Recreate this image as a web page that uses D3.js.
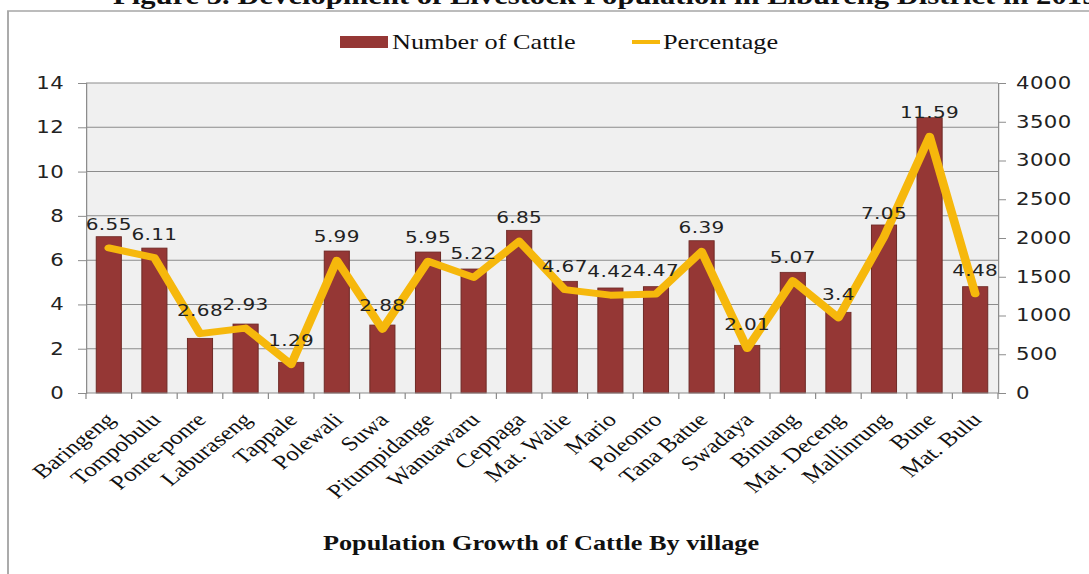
<!DOCTYPE html>
<html>
<head>
<meta charset="utf-8">
<script src="https://cdn.jsdelivr.net/npm/d3@7"></script>
<style>
  body { margin: 0; background: #fff; }
  svg { display: block; }
</style>
</head>
<body>
<div id="chart"></div>
<script>
// data
const villages = ["Baringeng", "Tompobulu", "Ponre-ponre", "Laburaseng", "Tappale", "Polewali", "Suwa",
    "Pitumpidange", "Wanuawaru", "Ceppaga", "Mat. Walie", "Mario", "Poleonro", "Tana Batue", "Swadaya",
    "Binuang", "Mat. Deceng", "Mallinrung", "Bune", "Mat. Bulu"];
const cattle = [2017, 1870, 705, 890, 396, 1832, 877, 1819, 1600, 2099, 1441, 1355, 1372, 1965, 615,
    1557, 1041, 2168, 3552, 1372];
const percentage = [6.55, 6.11, 2.68, 2.93, 1.29, 5.99, 2.88, 5.95, 5.22, 6.85, 4.67, 4.42, 4.47, 6.39, 2.01,
    5.07, 3.4, 7.05, 11.59, 4.48];
const leftTicks = [0, 2, 4, 6, 8, 10, 12, 14];
const rightTicks = [0, 500, 1000, 1500, 2000, 2500, 3000, 3500, 4000];

const width = 1089, height = 574;
const SX = 1.25; // the original picture is stretched sideways
const X = (v) => v / SX;

const barColor = "#953735";
const lineColor = "#f6b80c";

var svg = d3.select("#chart")
    .append("svg")
    .attr("width", width)
    .attr("height", height);

var g = svg.append("g").attr("transform", `scale(${SX},1)`);

// frame
g.append("rect")
    .attr("x", X(8)).attr("y", 11)
    .attr("width", X(1200)).attr("height", 600)
    .attr("fill", "none")
    .attr("stroke", "#a6a6a6")
    .attr("stroke-width", 1.5);

// title, cut off at the top
g.append("text")
    .attr("x", X(113)).attr("y", 4)
    .style("font-family", "Liberation Serif")
    .style("font-size", "24.5px")
    .style("font-weight", "bold")
    .attr("fill", "#111")
    .text("Figure 5. Development of Livestock Population in Libureng District in 2019");

var x = d3.scaleBand()
    .domain(villages)
    .range([X(86), X(998)])
    .paddingInner(0.45)
    .paddingOuter(0.225);

var yL = d3.scaleLinear().domain([0, 14]).range([393, 83]);
var yR = d3.scaleLinear().domain([0, 4000]).range([393, 83]);

// plot background
g.append("rect")
    .attr("x", X(86)).attr("y", yL(14))
    .attr("width", X(998) - X(86)).attr("height", yL(0) - yL(14))
    .attr("fill", "#f0f0f0");

// gridlines
g.append("g")
    .selectAll("line")
    .data(leftTicks.filter(d => d > 0))
    .enter()
    .append("line")
    .attr("x1", X(86)).attr("x2", X(998))
    .attr("y1", d => yL(d)).attr("y2", d => yL(d))
    .attr("stroke", "#8c8c8c")
    .attr("stroke-width", 1);

// bars
g.append("g")
    .selectAll("rect")
    .data(cattle)
    .enter()
    .append("rect")
    .attr("x", (d, i) => x(villages[i]))
    .attr("y", d => yR(d))
    .attr("width", x.bandwidth())
    .attr("height", d => yR(0) - yR(d))
    .attr("fill", barColor)
    .attr("stroke", "#6e2a26")
    .attr("stroke-width", 0.8);

// axes
var tickFont = (sel) => sel.selectAll("text")
    .style("font-family", "DejaVu Sans")
    .style("font-size", "17px")
    .style("letter-spacing", "0.3px")
    .attr("fill", "#222");

var leftAxis = g.append("g")
    .attr("transform", `translate(${X(86)},0)`)
    .call(d3.axisLeft(yL).tickValues(leftTicks).tickSize(X(8)).tickPadding(X(14)));
leftAxis.call(tickFont);

var rightAxis = g.append("g")
    .attr("transform", `translate(${X(998)},0)`)
    .call(d3.axisRight(yR).tickValues(rightTicks).tickFormat(d3.format("d")).tickSize(X(8)).tickPadding(X(10)));
rightAxis.call(tickFont);

[leftAxis, rightAxis].forEach(a => {
    a.select(".domain").attr("stroke", "#8c8c8c");
    a.selectAll(".tick line").attr("stroke", "#8c8c8c");
});

// x axis line and tick marks between categories
var bottom = g.append("g");
bottom.append("line")
    .attr("x1", X(86)).attr("x2", X(998))
    .attr("y1", yL(0)).attr("y2", yL(0))
    .attr("stroke", "#8c8c8c");
bottom.selectAll(".xt")
    .data(d3.range(villages.length + 1))
    .enter()
    .append("line")
    .attr("x1", i => X(86) + i * x.step())
    .attr("x2", i => X(86) + i * x.step())
    .attr("y1", yL(0)).attr("y2", yL(0) + 6)
    .attr("stroke", "#8c8c8c");

// category labels
bottom.selectAll(".xl")
    .data(villages)
    .enter()
    .append("text")
    .attr("transform", d => `translate(${x(d) + x.bandwidth() / 2 + 1},416) rotate(-45)`)
    .attr("text-anchor", "end")
    .attr("dy", "0.35em")
    .style("font-family", "Liberation Serif")
    .style("font-size", "20px")
    .attr("fill", "#111")
    .text(d => d);

// percentage line
var line = d3.line()
    .x((d, i) => x(villages[i]) + x.bandwidth() / 2)
    .y(d => yL(d));

g.append("path")
    .datum(percentage)
    .attr("d", line)
    .attr("fill", "none")
    .attr("stroke", lineColor)
    .attr("stroke-width", 7)
    .attr("stroke-linejoin", "round")
    .attr("stroke-linecap", "round");

// data labels
g.append("g")
    .selectAll("text")
    .data(percentage)
    .enter()
    .append("text")
    .attr("x", (d, i) => x(villages[i]) + x.bandwidth() / 2)
    .attr("y", d => yL(d) - 18)
    .attr("text-anchor", "middle")
    .style("font-family", "DejaVu Sans")
    .style("font-size", "16px")
    .style("letter-spacing", "0.3px")
    .attr("fill", "#222")
    .text(d => d);

// legend
var legend = g.append("g");
legend.append("rect")
    .attr("x", X(340)).attr("y", 36)
    .attr("width", X(48)).attr("height", 12)
    .attr("fill", barColor);
legend.append("text")
    .attr("x", X(392)).attr("y", 49)
    .style("font-family", "Liberation Serif")
    .style("font-size", "21px")
    .attr("fill", "#111")
    .text("Number of Cattle");
legend.append("line")
    .attr("x1", X(632)).attr("x2", X(660))
    .attr("y1", 42).attr("y2", 42)
    .attr("stroke", lineColor)
    .attr("stroke-width", 4);
legend.append("text")
    .attr("x", X(663)).attr("y", 49)
    .style("font-family", "Liberation Serif")
    .style("font-size", "21px")
    .attr("fill", "#111")
    .text("Percentage");

// axis title
g.append("text")
    .attr("x", X(541)).attr("y", 550)
    .attr("text-anchor", "middle")
    .style("font-family", "Liberation Serif")
    .style("font-size", "21px")
    .style("font-weight", "bold")
    .attr("fill", "#111")
    .text("Population Growth of Cattle By village");
</script>
</body>
</html>
